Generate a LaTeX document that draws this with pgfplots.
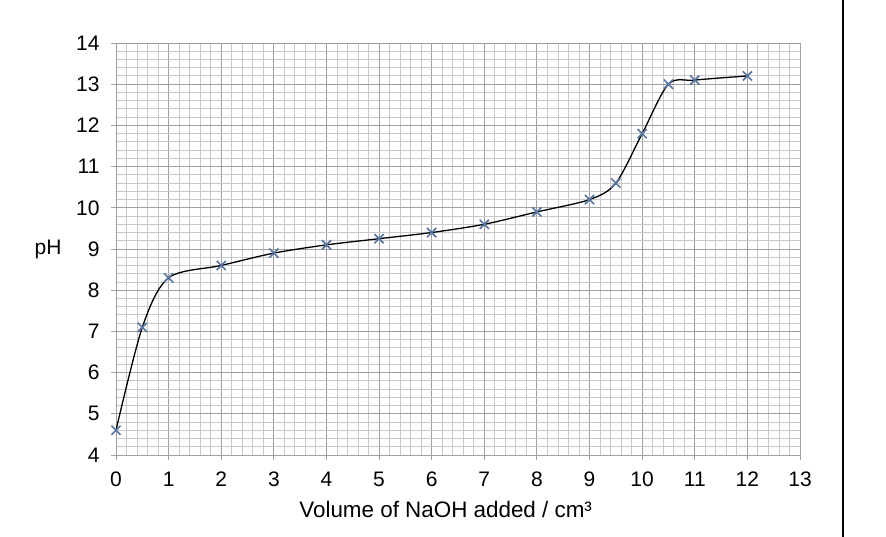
\documentclass[border=0pt]{standalone}
\usepackage{pgfplots}
\pgfplotsset{compat=1.18}
\usepackage{fontspec}
\setmainfont{Liberation Sans}
\definecolor{minorgrid}{HTML}{C8C8C8}
\definecolor{majorgrid}{HTML}{A0A0A0}
\definecolor{markblue}{HTML}{5A76A0}
\newcommand{\lblfont}{\fontsize{21bp}{23bp}\selectfont}
\newcommand{\axlblfont}{\fontsize{22.4bp}{24bp}\selectfont}
\begin{document}
\begin{tikzpicture}[x=1bp,y=1bp]
\useasboundingbox (0,0) rectangle (886,537);
\draw[black, line width=1.2bp] (843,0) -- (843,537);
\begin{axis}[
  at={(116bp,82bp)}, anchor=south west,
  scale only axis, width=684bp, height=412bp,
  xmin=0, xmax=13, ymin=4, ymax=14,
  xtick={0,...,13}, ytick={4,...,14},
  xticklabels={0,1,2,3,4,5,6,7,8,9,10,11,12,13},
  yticklabels={4,5,6,7,8,9,10,11,12,13,14},
  minor x tick num=4, minor y tick num=4,
  grid=both,
  major grid style={majorgrid, line width=0.9bp},
  minor grid style={minorgrid, line width=0.9bp},
  axis line style={majorgrid, line width=0.9bp},
  tick style={majorgrid, line width=0.9bp},
  tick align=outside, major tick length=5bp, minor tick length=0pt,
  xtick pos=bottom, ytick pos=left,
  xticklabel style={font=\lblfont, text=black, anchor=base, yshift=-27bp},
  yticklabel style={font=\lblfont, text=black, anchor=east, xshift=-8bp},
  xlabel={Volume of NaOH added / cm³},
  ylabel={pH},
  every axis x label/.style={at={(axis description cs:0.482,0)}, anchor=base, yshift=-63bp, font=\axlblfont},
  every axis y label/.style={at={(axis description cs:0,0.5)}, anchor=east, xshift=-51bp, font=\lblfont},
]
\addplot[black, line width=1.3bp, smooth, tension=0.5, no marks] coordinates {
(0,4.6) (0.5,7.1) (1,8.3) (2,8.6) (3,8.9) (4,9.1) (5,9.25) (6,9.4) (7,9.6) (8,9.9) (9,10.2) (9.5,10.6) (10,11.8) (10.5,13.0) (11,13.1) (12,13.2)
};
\addplot[only marks, mark=x, mark size=6.5bp, markblue, line width=1.7bp] coordinates {
(0,4.6) (0.5,7.1) (1,8.3) (2,8.6) (3,8.9) (4,9.1) (5,9.25) (6,9.4) (7,9.6) (8,9.9) (9,10.2) (9.5,10.6) (10,11.8) (10.5,13.0) (11,13.1) (12,13.2)
};
\end{axis}
\end{tikzpicture}
\end{document}
